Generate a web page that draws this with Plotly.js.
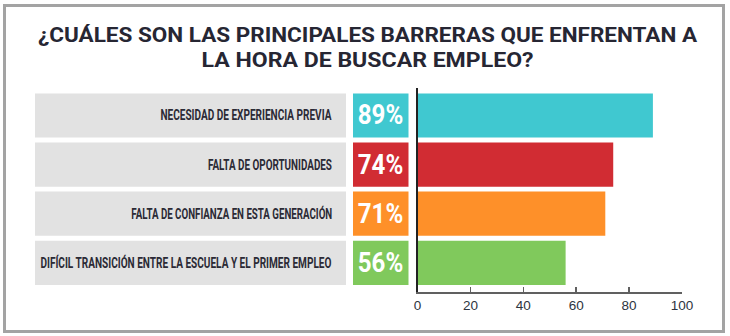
<!DOCTYPE html>
<html>
<head>
<meta charset="utf-8">
<script src="https://cdn.plot.ly/plotly-3.0.1.min.js"></script>
<style>
html,body{margin:0;padding:0;background:#fff;}
#chart{width:730px;height:336px;}
</style>
</head>
<body>
<div id="chart"></div>
<script>
// ---- data ----
const categories = [
  "NECESIDAD DE EXPERIENCIA PREVIA",
  "FALTA DE OPORTUNIDADES",
  "FALTA DE CONFIANZA EN ESTA GENERACIÓN",
  "DIFÍCIL TRANSICIÓN ENTRE LA ESCUELA Y EL PRIMER EMPLEO"
];
const values = [89, 74, 71, 56];
const barColors = ["#40c8d0", "#d12c33", "#fe9029", "#80c95c"];
const xTickValues = [0, 20, 40, 60, 80, 100];
const titleLines = ["¿CUÁLES SON LAS PRINCIPALES BARRERAS QUE ENFRENTAN A", "LA HORA DE BUSCAR EMPLEO?"];

// ---- layout helpers (pixel geometry of the reference) ----
const W = 730, H = 336;
const px = v => v / W;
const py = v => 1 - v / H;
const FONT = "Roboto, 'Liberation Sans', Arial, sans-serif";
const idx = categories.map((c, i) => i);
// target rendered widths (px) to mimic the condensed typeface
const labelWidths = [171, 124, 201, 291];
const pctWidth = 45.5;
const titleWidths = [659, 332];

const shapes = [];
const annotations = [];
categories.forEach((c, i) => {
  shapes.push({type: "rect", xref: "paper", yref: "y", x0: px(35), x1: px(346),
    y0: i - 0.45, y1: i + 0.45, fillcolor: "#e2e2e2", line: {width: 0}, layer: "below"});
  shapes.push({type: "rect", xref: "paper", yref: "y", x0: px(353), x1: px(408.5),
    y0: i - 0.45, y1: i + 0.45, fillcolor: barColors[i], line: {width: 0}, layer: "below"});
});
categories.forEach((c, i) => {
  annotations.push({xref: "paper", yref: "y", x: px(334), y: i, xanchor: "right", yanchor: "middle",
    text: c, showarrow: false, font: {family: FONT, size: 14, color: "#2b2a35", weight: 700}});
});
categories.forEach((c, i) => {
  annotations.push({xref: "paper", yref: "y", x: px(380.5), y: i, xanchor: "center", yanchor: "middle",
    text: values[i] + "%", showarrow: false, font: {family: FONT, size: 27, color: "#ffffff", weight: 700}});
});
// outer frame
shapes.push({type: "rect", xref: "paper", yref: "paper", x0: px(4.5), x1: px(723.5), y0: py(331.5), y1: py(5.5),
  line: {color: "#a3a3a3", width: 3}, fillcolor: "rgba(0,0,0,0)"});
// title
annotations.push({xref: "paper", yref: "paper", x: px(367.5), y: py(48), xanchor: "center", yanchor: "middle",
  text: titleLines.join("<br>"), showarrow: false,
  font: {family: FONT, size: 19.5, color: "#262633", weight: 700}, align: "center"});

const trace = {
  type: "bar", orientation: "h",
  x: values, y: idx,
  width: 0.9,
  marker: {color: barColors, line: {width: 0}},
  hoverinfo: "skip"
};

const layout = {
  width: W, height: H,
  margin: {l: 0, r: 0, t: 0, b: 0},
  paper_bgcolor: "#ffffff", plot_bgcolor: "#ffffff",
  showlegend: false,
  xaxis: {
    domain: [px(417.5), px(682)],
    range: [0, 100], tickvals: xTickValues, ticktext: xTickValues.map(String),
    showgrid: false, zeroline: false,
    showline: true, linecolor: "#606060", linewidth: 2,
    ticks: "inside", ticklen: 5, tickcolor: "#606060", tickwidth: 1.5,
    tickfont: {family: "'Liberation Sans', Arial, sans-serif", size: 13.5, color: "#2d3440"},
    anchor: "y", fixedrange: true
  },
  yaxis: {
    domain: [py(292), py(88)],
    range: [3.595, -0.56],
    showticklabels: false, ticks: "", showgrid: false, zeroline: false,
    showline: true, linecolor: "#222222", linewidth: 1.2,
    fixedrange: true
  },
  shapes: shapes,
  annotations: annotations
};

function squeeze(el, target, anchor) {
  const b0 = el.getBBox();
  el.setAttribute("textLength", target);
  el.setAttribute("lengthAdjust", "spacingAndGlyphs");
  const b1 = el.getBBox();
  const dx = anchor === "right" ? (b0.x + b0.width) - (b1.x + b1.width)
                                : (b0.x + b0.width / 2) - (b1.x + b1.width / 2);
  el.setAttribute("x", (parseFloat(el.getAttribute("x")) || 0) + dx);
  el.querySelectorAll("tspan[x]").forEach(t => t.setAttribute("x", (parseFloat(t.getAttribute("x")) || 0) + dx));
}

Plotly.newPlot("chart", [trace], layout, {displayModeBar: false, staticPlot: true}).then(gd => {
  const n = categories.length;
  const texts = gd.querySelectorAll("g.annotation text.annotation-text");
  texts.forEach((t, k) => {
    if (k < n) squeeze(t, labelWidths[k], "right");
    else if (k < 2 * n) squeeze(t, pctWidth, "center");
    else {
      const lines = t.querySelectorAll("tspan.line");
      lines.forEach((ln, j) => {
        ln.setAttribute("textLength", titleWidths[j]);
        ln.setAttribute("lengthAdjust", "spacingAndGlyphs");
      });
    }
  });
});
</script>
</body>
</html>
